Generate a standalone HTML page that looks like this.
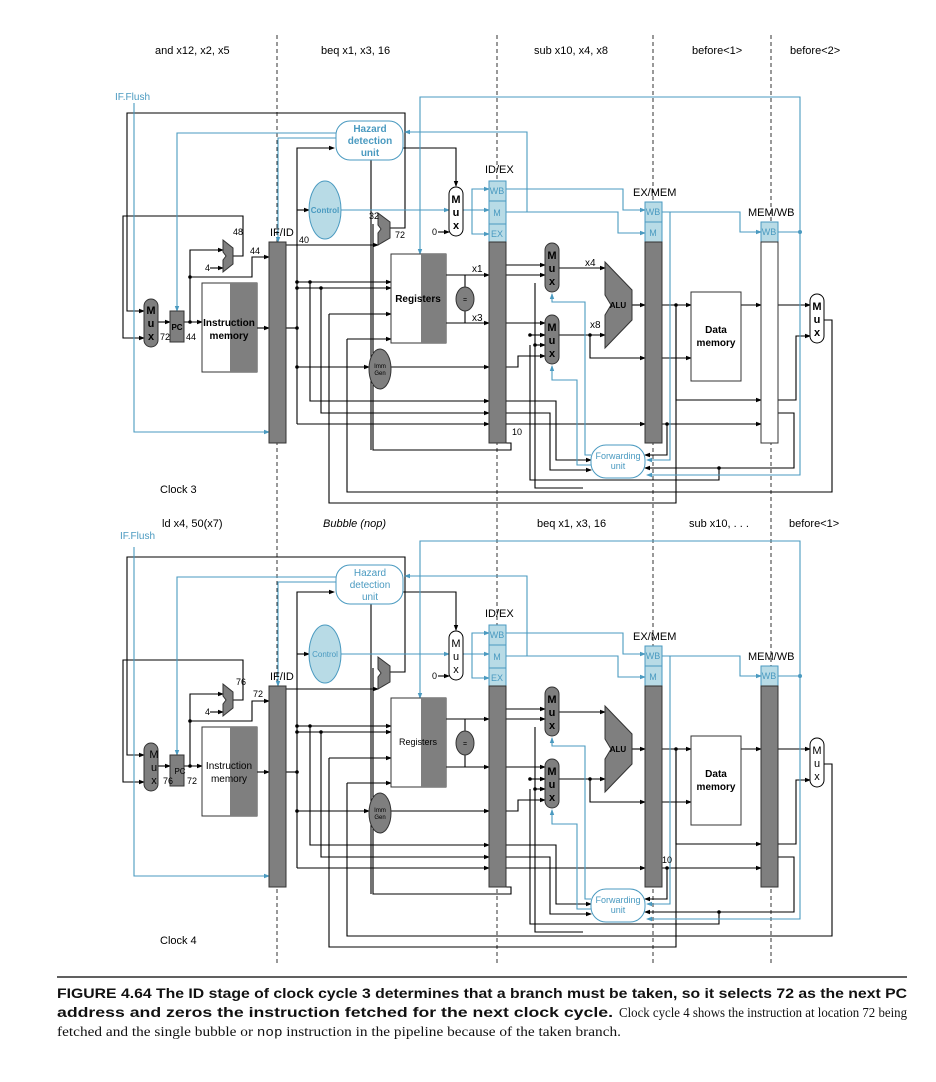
<!DOCTYPE html>
<html><head><meta charset="utf-8"><style>
body{margin:0;background:#fff;width:936px;height:1082px;overflow:hidden}
svg{display:block}
text{font-family:"Liberation Sans",sans-serif}
</style></head><body>
<svg width="936" height="1082" viewBox="0 0 936 1082" xmlns="http://www.w3.org/2000/svg">
<defs>
<marker id="a" markerWidth="6" markerHeight="6" refX="5" refY="3" orient="auto" markerUnits="userSpaceOnUse"><path d="M0,0.8 L6,3 L0,5.2z" fill="#000"/></marker>
<marker id="b" markerWidth="6" markerHeight="6" refX="5" refY="3" orient="auto" markerUnits="userSpaceOnUse"><path d="M0,0.8 L6,3 L0,5.2z" fill="#4a9ac0"/></marker>
<g id="D">
 <g fill="none" stroke="#000" stroke-width="1.1">
  <path d="M157,322H170" marker-end="url(#a)"/>
  <path d="M184,322H202" marker-end="url(#a)"/>
  <path d="M190,322V250H223" marker-end="url(#a)"/>
  <path d="M190,277H252V257H269" marker-end="url(#a)"/>
  <path d="M210,268H223" marker-end="url(#a)"/>
  <path d="M233,256H243V216H123V338H144" marker-end="url(#a)"/>
  <path d="M390,228H405V113H127V311H144" marker-end="url(#a)"/>
  <path d="M257,328H269" marker-end="url(#a)"/>
  <path d="M286,328H297"/>
  <path d="M297,173V424"/>
  <path d="M297,173V148H334" marker-end="url(#a)"/>
  <path d="M297,210H309" marker-end="url(#a)"/>
  <path d="M286,245H378" marker-end="url(#a)"/>
  <path d="M297,282H391" marker-end="url(#a)"/>
  <path d="M297,288H391" marker-end="url(#a)"/>
  <path d="M310,282V401H489" marker-end="url(#a)"/>
  <path d="M321,288V413H489" marker-end="url(#a)"/>
  <path d="M297,424H489" marker-end="url(#a)"/>
  <path d="M297,367H369" marker-end="url(#a)"/>
  <path d="M391,367H489" marker-end="url(#a)"/>
  <path d="M446,275H489" marker-end="url(#a)"/>
  <path d="M446,323H489" marker-end="url(#a)"/>
  <path d="M465,275V323"/>
  <path d="M403,148H456V186" marker-end="url(#a)"/>
  <path d="M438,232H449" marker-end="url(#a)"/>
  <path d="M373,224V391V450H511V443H506"/>
  <path d="M371,160V450"/>
  <path d="M329,314H391" marker-end="url(#a)"/>
  <path d="M329,314V503H676V305"/>
  <path d="M347,339H391" marker-end="url(#a)"/>
  <path d="M347,339V492H832V320H824"/>
  <path d="M506,265H545" marker-end="url(#a)"/>
  <path d="M506,275H545" marker-end="url(#a)"/>
  <path d="M506,323H545" marker-end="url(#a)"/>
  <path d="M530,335H545" marker-end="url(#a)"/>
  <path d="M535,345H545" marker-end="url(#a)"/>
  <path d="M506,367H518V356H545" marker-end="url(#a)"/>
  <path d="M535,283V488H583" />
  <path d="M559,268H605" marker-end="url(#a)"/>
  <path d="M559,335H605" marker-end="url(#a)"/>
  <path d="M590,335V358H645" marker-end="url(#a)"/>
  <path d="M632,305H645" marker-end="url(#a)"/>
  <path d="M662,305H691" marker-end="url(#a)"/>
  <path d="M676,305V400H761" marker-end="url(#a)"/>
  <path d="M662,358H691" marker-end="url(#a)"/>
  <path d="M741,305H761" marker-end="url(#a)"/>
  <path d="M778,305H810" marker-end="url(#a)"/>
  <path d="M778,400H796V336H810" marker-end="url(#a)"/>
  <path d="M506,401H556V460H591" marker-end="url(#a)"/>
  <path d="M506,413H550V470H591" marker-end="url(#a)"/>
  <path d="M506,424H645" marker-end="url(#a)"/>
  <path d="M662,424H761" marker-end="url(#a)"/>
  <path d="M667,424V455H645" marker-end="url(#a)"/>
  <path d="M778,413H794V468H645" marker-end="url(#a)"/>
  <path d="M719,468V480H530V345"/>
 </g>
 <g fill="#000">
  <circle cx="190" cy="322" r="1.8"/><circle cx="190" cy="277" r="1.8"/>
  <circle cx="297" cy="328" r="1.8"/><circle cx="297" cy="282" r="1.8"/><circle cx="297" cy="288" r="1.8"/>
  <circle cx="310" cy="282" r="1.8"/><circle cx="321" cy="288" r="1.8"/><circle cx="297" cy="367" r="1.8"/>
  <circle cx="590" cy="335" r="1.8"/><circle cx="676" cy="305" r="1.8"/><circle cx="667" cy="424" r="1.8"/>
  <circle cx="719" cy="468" r="1.8"/><circle cx="530" cy="335" r="1.8"/><circle cx="535" cy="345" r="1.8"/>
 </g>
 <g fill="none" stroke="#4a9ac0" stroke-width="1.1">
  <path d="M134,103V432H269" marker-end="url(#b)"/>
  <path d="M336,133H177V311" marker-end="url(#b)"/>
  <path d="M336,138H278V242" marker-end="url(#b)"/>
  <path d="M800,232V97H420V254" marker-end="url(#b)"/>
  <path d="M527,212V132H405" marker-end="url(#b)"/>
  <path d="M341,210H449" marker-end="url(#b)"/>
  <path d="M463,210H489" marker-end="url(#b)"/>
  <path d="M472,210V189H489" marker-end="url(#b)"/>
  <path d="M472,210V234H489" marker-end="url(#b)"/>
  <path d="M506,189H623V210H645" marker-end="url(#b)"/>
  <path d="M506,212H618V233H645" marker-end="url(#b)"/>
  <path d="M662,212H740V232H761" marker-end="url(#b)"/>
  <path d="M670,212V460H647" marker-end="url(#b)"/>
  <path d="M778,232H800V475H647" marker-end="url(#b)"/>
  <path d="M591,455H585V302H552V294" marker-end="url(#b)"/>
  <path d="M591,465H577V380H552V366" marker-end="url(#b)"/>
 </g>
 <circle cx="800" cy="232" r="2" fill="#4a9ac0"/>
 <rect x="144" y="299" width="14" height="48" rx="7" fill="#7f7f7f" stroke="#333"/>
 <rect x="170" y="311" width="14" height="31" fill="#7f7f7f" stroke="#333"/>
 <path d="M223,240L233,248V264L223,272V260L226,256L223,252z" fill="#7f7f7f" stroke="#333"/>
 <rect x="202" y="283" width="55" height="89" fill="#fff" stroke="#333"/>
 <rect x="230" y="283" width="27" height="89" fill="#7f7f7f"/>
 <rect x="269" y="242" width="17" height="201" fill="#7f7f7f" stroke="#333"/>
 <rect x="336" y="121" width="67" height="39" rx="14" fill="#fff" stroke="#4a9ac0"/>
 <ellipse cx="325" cy="210" rx="16" ry="29" fill="#b8dbe6" stroke="#4a9ac0"/>
 <path d="M378,213L390,222V238L378,245V233L381,229L378,225z" fill="#7f7f7f" stroke="#333"/>
 <rect x="449" y="187" width="14" height="49" rx="7" fill="#fff" stroke="#000"/>
 <rect x="391" y="254" width="55" height="89" fill="#fff" stroke="#333"/>
 <rect x="421" y="254" width="25" height="89" fill="#7f7f7f"/>
 <ellipse cx="465" cy="299" rx="9" ry="12" fill="#7f7f7f" stroke="#333"/>
 <ellipse cx="380" cy="369" rx="11" ry="20" fill="#7f7f7f" stroke="#333"/>
 <rect x="489" y="181" width="17" height="20" fill="#b8dbe6" stroke="#4a9ac0"/>
 <rect x="489" y="201" width="17" height="23" fill="#b8dbe6" stroke="#4a9ac0"/>
 <rect x="489" y="224" width="17" height="18" fill="#b8dbe6" stroke="#4a9ac0"/>
 <rect x="489" y="242" width="17" height="201" fill="#7f7f7f" stroke="#333"/>
 <rect x="645" y="202" width="17" height="20" fill="#b8dbe6" stroke="#4a9ac0"/>
 <rect x="645" y="222" width="17" height="20" fill="#b8dbe6" stroke="#4a9ac0"/>
 <rect x="645" y="242" width="17" height="201" fill="#7f7f7f" stroke="#333"/>
 <rect x="761" y="222" width="17" height="20" fill="#b8dbe6" stroke="#4a9ac0"/>
 <rect x="545" y="243" width="14" height="49" rx="7" fill="#7f7f7f" stroke="#333"/>
 <rect x="545" y="315" width="14" height="49" rx="7" fill="#7f7f7f" stroke="#333"/>
 <path d="M605,262L632,290V320L605,348V315L611,305L605,295z" fill="#7f7f7f" stroke="#333"/>
 <rect x="691" y="292" width="50" height="89" fill="#fff" stroke="#333"/>
 <rect x="810" y="294" width="14" height="49" rx="7" fill="#fff" stroke="#000"/>
 <rect x="591" y="445" width="54" height="33" rx="15" fill="#fff" stroke="#4a9ac0"/>
 <g font-size="9" fill="#4a9ac0" text-anchor="middle">
  <text x="497" y="194">WB</text><text x="497" y="216">M</text><text x="497" y="237">EX</text>
  <text x="653" y="215">WB</text><text x="653" y="236">M</text><text x="769" y="235">WB</text>
  <text x="618" y="459">Forwarding</text><text x="618" y="469">unit</text>
 </g>
 <g font-size="9" fill="#000" text-anchor="middle">
  <text x="465" y="302" font-size="7">=</text>
  <text x="618" y="308" font-weight="bold" font-size="8">ALU</text>
  <text x="716" y="333" font-weight="bold" font-size="10">Data</text>
  <text x="716" y="346" font-weight="bold" font-size="10">memory</text>
  <text x="380" y="368" font-size="6">Imm</text><text x="380" y="375" font-size="6">Gen</text>
 </g>
 <g font-size="9" fill="#000">
  <text x="432" y="235">0</text><text x="205" y="271">4</text>
 </g>
 <text x="270" y="236" font-size="11">IF/ID</text>
 <text x="485" y="173" font-size="11">ID/EX</text>
 <text x="633" y="196" font-size="11">EX/MEM</text>
 <text x="748" y="216" font-size="11">MEM/WB</text>
</g>
</defs>

<g stroke="#333" stroke-width="1" stroke-dasharray="4,3">
 <line x1="277" y1="35" x2="277" y2="965"/>
 <line x1="497" y1="35" x2="497" y2="965"/>
 <line x1="653" y1="35" x2="653" y2="965"/>
 <line x1="771" y1="35" x2="771" y2="965"/>
</g>

<use href="#D"/>
<rect x="761" y="242" width="17" height="201" fill="#fff" stroke="#333"/>
<g font-size="11" fill="#000">
 <text x="155" y="54">and x12, x2, x5</text>
 <text x="321" y="54">beq x1, x3, 16</text>
 <text x="534" y="54">sub x10, x4, x8</text>
 <text x="692" y="54">before&lt;1&gt;</text>
 <text x="790" y="54">before&lt;2&gt;</text>
 <text x="160" y="493">Clock 3</text>
</g>
<text x="115" y="100" font-size="10" fill="#4a9ac0">IF.Flush</text>
<g font-size="10" font-weight="bold" fill="#4a9ac0" text-anchor="middle">
 <text x="370" y="132">Hazard</text><text x="370" y="144">detection</text><text x="370" y="156">unit</text>
</g>
<text x="325" y="213" font-size="8" fill="#4a9ac0" text-anchor="middle" font-weight="bold">Control</text>
<g font-weight="bold" text-anchor="middle" font-size="11">
 <text x="151" y="314">M</text><text x="151" y="327">u</text><text x="151" y="340">x</text>
 <text x="456" y="203">M</text><text x="456" y="216">u</text><text x="456" y="229">x</text>
 <text x="552" y="259">M</text><text x="552" y="272">u</text><text x="552" y="285">x</text>
 <text x="552" y="331">M</text><text x="552" y="344">u</text><text x="552" y="357">x</text>
 <text x="817" y="310">M</text><text x="817" y="323">u</text><text x="817" y="336">x</text>
 <text x="229" y="326" font-size="10">Instruction</text><text x="229" y="339" font-size="10">memory</text>
 <text x="418" y="302" font-size="10">Registers</text>
 <text x="177" y="330" font-size="8">PC</text>
</g>
<g font-size="9">
 <text x="160" y="340">72</text><text x="186" y="340">44</text><text x="233" y="235">48</text><text x="250" y="254">44</text>
 <text x="299" y="243">40</text><text x="369" y="219">32</text><text x="395" y="238">72</text>
 <text x="472" y="272" font-size="10">x1</text><text x="472" y="321" font-size="10">x3</text>
 <text x="585" y="266" font-size="10">x4</text><text x="590" y="328" font-size="10">x8</text>
 <text x="512" y="435">10</text>
</g>

<g transform="translate(0,444)"><use href="#D"/></g>
<rect x="761" y="686" width="17" height="201" fill="#7f7f7f" stroke="#333"/>
<g font-size="11" fill="#000">
 <text x="162" y="527">ld x4, 50(x7)</text>
 <text x="323" y="527" font-style="italic">Bubble (nop)</text>
 <text x="537" y="527">beq x1, x3, 16</text>
 <text x="689" y="527">sub x10, . . .</text>
 <text x="789" y="527">before&lt;1&gt;</text>
 <text x="160" y="944">Clock 4</text>
</g>
<text x="120" y="539" font-size="10" fill="#4a9ac0">IF.Flush</text>
<g font-size="10" fill="#4a9ac0" text-anchor="middle">
 <text x="370" y="576">Hazard</text><text x="370" y="588">detection</text><text x="370" y="600">unit</text>
</g>
<text x="325" y="657" font-size="8" fill="#4a9ac0" text-anchor="middle">Control</text>
<g text-anchor="middle" font-size="11">
 <text x="154" y="758">M</text><text x="154" y="771">u</text><text x="154" y="784">x</text>
 <text x="456" y="647">M</text><text x="456" y="660">u</text><text x="456" y="673">x</text>
 <text x="552" y="703" font-weight="bold">M</text><text x="552" y="716" font-weight="bold">u</text><text x="552" y="729" font-weight="bold">x</text>
 <text x="552" y="775" font-weight="bold">M</text><text x="552" y="788" font-weight="bold">u</text><text x="552" y="801" font-weight="bold">x</text>
 <text x="817" y="754">M</text><text x="817" y="767">u</text><text x="817" y="780">x</text>
 <text x="229" y="769" font-size="10">Instruction</text><text x="229" y="782" font-size="10">memory</text>
 <text x="418" y="745" font-size="9">Registers</text>
 <text x="180" y="774" font-size="8">PC</text>
</g>
<g font-size="9">
 <text x="163" y="784">76</text><text x="187" y="784">72</text><text x="236" y="685">76</text><text x="253" y="697">72</text>
 <text x="662" y="863">10</text>
</g>

<line x1="57" y1="977" x2="907" y2="977" stroke="#000" stroke-width="1.2"/>
<g fill="#111">
 <text x="57" y="998" font-size="14" font-weight="bold" textLength="850" lengthAdjust="spacingAndGlyphs">FIGURE 4.64   The ID stage of clock cycle 3 determines that a branch must be taken, so it selects 72 as the next PC</text>
 <text x="57" y="1017" font-size="14" font-weight="bold" textLength="556" lengthAdjust="spacingAndGlyphs">address and zeros the instruction fetched for the next clock cycle.</text>
 <text x="619" y="1017" font-size="14" font-family="Liberation Serif,serif" textLength="288" lengthAdjust="spacingAndGlyphs" style="font-family:'Liberation Serif',serif">Clock cycle 4 shows the instruction at location 72 being</text>
 <text x="57" y="1036" font-size="14" textLength="564" lengthAdjust="spacingAndGlyphs" style="font-family:'Liberation Serif',serif">fetched and the single bubble or <tspan style="font-family:'Liberation Mono',monospace" font-size="13">nop</tspan> instruction in the pipeline because of the taken branch.</text>
</g>
</svg>
</body></html>
